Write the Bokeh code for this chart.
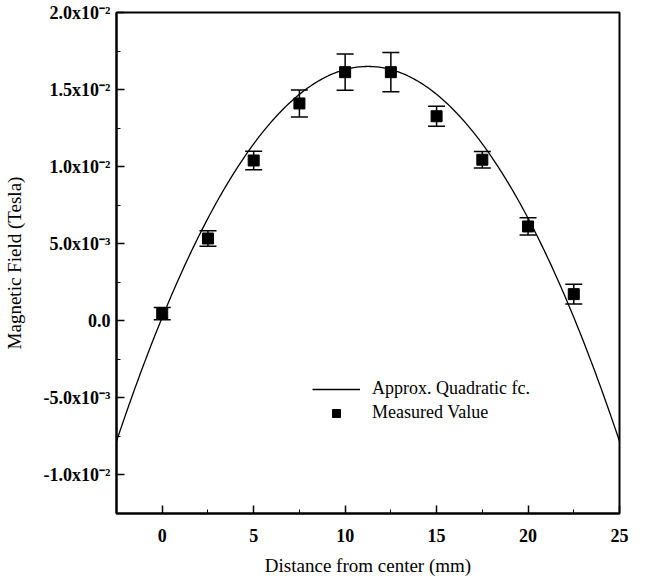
import numpy as np
from bokeh.plotting import figure
from bokeh.models import (Range1d, FixedTicker, ColumnDataSource, Whisker, TeeHead,
                          Legend, LegendItem)
from bokeh.embed import file_html
from bokeh.resources import INLINE

# ---- data ----
distance_mm = [0, 2.5, 5, 7.5, 10, 12.5, 15, 17.5, 20, 22.5]
field_tesla = [0.00047, 0.00534, 0.0104, 0.0141, 0.01613, 0.01613, 0.01327, 0.01045, 0.00612, 0.00173]
field_err = [0.0004, 0.0005, 0.0006, 0.00088, 0.00117, 0.00127, 0.00065, 0.00053, 0.00056, 0.00064]
# quadratic approximation y = c0 + c1*x + c2*x^2
quad_c0 = 0.000224
quad_c1 = 0.0028935
quad_c2 = -0.0001286

x_ticks = [0, 5, 10, 15, 20, 25]
x_minor = [-2.5, 2.5, 7.5, 12.5, 17.5, 22.5]
y_ticks = [-0.01, -0.005, 0.0, 0.005, 0.01, 0.015, 0.02]
y_tick_labels = ["-1.0x10\u207b\u00b2", "-5.0x10\u207b\u00b3", "0.0", "5.0x10\u207b\u00b3",
                 "1.0x10\u207b\u00b2", "1.5x10\u207b\u00b2", "2.0x10\u207b\u00b2"]
y_minor = [-0.0125, -0.0075, -0.0025, 0.0025, 0.0075, 0.0125, 0.0175]

FONT = "Liberation Serif"

p = figure(width=647, height=580, output_backend="svg", toolbar_location=None,
           x_range=Range1d(-2.5, 25), y_range=Range1d(-0.0125, 0.02),
           min_border_left=114, min_border_right=28, min_border_top=12, min_border_bottom=67)
p.background_fill_color = "white"
p.border_fill_color = "white"
p.grid.visible = False
p.outline_line_color = "black"
p.outline_line_width = 2

for ax in (p.xaxis[0], p.yaxis[0]):
    ax.axis_line_width = 2
    ax.axis_line_color = "black"
    ax.major_tick_in = 8
    ax.major_tick_out = 0
    ax.minor_tick_in = 4
    ax.minor_tick_out = 0
    ax.major_tick_line_width = 1.5
    ax.major_tick_line_color = "black"
    ax.minor_tick_line_color = "black"
    ax.major_label_text_font = FONT
    ax.major_label_text_font_style = "bold"
    ax.major_label_text_font_size = "18px"
    ax.major_label_text_color = "black"
    ax.axis_label_text_font = FONT
    ax.axis_label_text_font_style = "normal"
    ax.axis_label_text_font_size = "19px"
    ax.axis_label_text_color = "black"

p.xaxis[0].ticker = FixedTicker(ticks=x_ticks, minor_ticks=x_minor)
p.yaxis[0].ticker = FixedTicker(ticks=y_ticks, minor_ticks=y_minor)
p.yaxis[0].major_label_overrides = {t: l for t, l in zip(y_ticks, y_tick_labels)}
p.xaxis[0].axis_label = "Distance from center (mm)"
p.yaxis[0].axis_label = "Magnetic Field (Tesla)"
p.xaxis[0].major_label_standoff = 15
p.yaxis[0].major_label_standoff = 6
p.xaxis[0].axis_label_standoff = 10
p.yaxis[0].axis_label_standoff = 16

# quadratic curve
xc = np.linspace(-2.5, 25, 300)
yc = quad_c0 + quad_c1 * xc + quad_c2 * xc ** 2
curve = p.line(xc, yc, line_color="black", line_width=1.3)

# measured values with error bars
src = ColumnDataSource(dict(
    x=distance_mm, y=field_tesla,
    upper=[v + e for v, e in zip(field_tesla, field_err)],
    lower=[v - e for v, e in zip(field_tesla, field_err)],
))
wh = Whisker(source=src, base="x", upper="upper", lower="lower",
             line_color="black", line_width=1.5,
             upper_head=TeeHead(size=17, line_color="black", line_width=1.5),
             lower_head=TeeHead(size=17, line_color="black", line_width=1.5))
p.add_layout(wh)
pts = p.scatter("x", "y", source=src, marker="square", size=11,
                fill_color="black", line_color="black")

legend = Legend(items=[LegendItem(label="Approx. Quadratic fc.", renderers=[curve]),
                       LegendItem(label="Measured Value", renderers=[pts])],
                location=(196, 90), orientation="vertical")
legend.background_fill_alpha = 0
legend.border_line_alpha = 0
legend.label_text_font = FONT
legend.label_text_font_size = "18px"
legend.label_text_color = "black"
legend.glyph_width = 48
legend.glyph_height = 20
legend.label_height = 20
legend.spacing = 3
legend.label_standoff = 12
legend.padding = 0
legend.margin = 0
p.add_layout(legend, "center")

open("out.html", "w").write(file_html(p, INLINE))
